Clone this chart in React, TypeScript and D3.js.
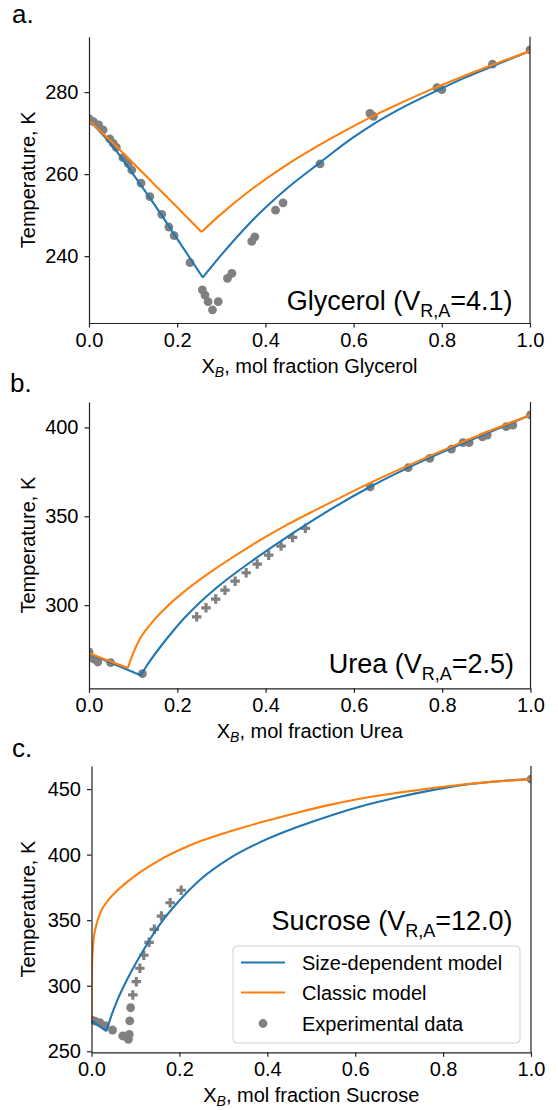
import * as d3 from 'd3'
import { useEffect, useRef } from 'react'

const FONT = '"Liberation Sans", Arial, Helvetica, sans-serif'
const BLUE = '#1f77b4'
const ORANGE = '#ff7f0e'
const GREY = '#808080'

type Pt = [number, number]

// ---- a. Glycerol ----
const glycerolCircles: Pt[] = [
    [0.000, 273.5], [0.010, 272.8], [0.022, 272.0], [0.032, 270.8], [0.047, 268.6],
    [0.055, 267.5], [0.062, 266.5], [0.077, 264.0], [0.089, 262.6], [0.097, 261.0],
    [0.118, 257.8], [0.138, 254.5], [0.165, 250.2], [0.181, 247.1], [0.193, 245.0],
    [0.229, 238.4], [0.257, 231.8], [0.263, 230.5], [0.270, 228.9], [0.280, 226.9],
    [0.293, 228.9], [0.314, 234.6], [0.324, 235.8], [0.369, 243.6], [0.376, 244.7],
    [0.423, 251.2], [0.440, 253.0], [0.524, 262.5], [0.637, 274.8], [0.645, 274.1],
    [0.789, 281.1], [0.800, 280.6], [0.915, 286.8], [1.000, 290.3],
]
const glycerolSizeLeft: Pt[] = [[0, 273.1], [0.05, 267.3], [0.1, 260.0], [0.15, 252.3], [0.2, 244.2], [0.258, 234.8]]
const glycerolSizeRight: Pt[] = [
    [0.258, 234.8], [0.3, 240.3], [0.365, 248.1], [0.45, 256.6], [0.52, 262.5], [0.6, 269.0],
    [0.645, 272.2], [0.7, 275.6], [0.788, 280.3], [0.85, 283.4], [0.917, 286.4], [1.0, 290.0],
]
const glycerolClassicLeft: Pt[] = [[0, 273.1], [0.05, 268.0], [0.1, 262.7], [0.15, 257.3], [0.2, 251.9], [0.255, 245.9]]
const glycerolClassicRight: Pt[] = [
    [0.255, 245.9], [0.3, 250.3], [0.365, 256.0], [0.45, 262.4], [0.516, 266.7], [0.6, 271.7],
    [0.645, 274.2], [0.7, 277.0], [0.788, 281.2], [0.85, 283.9], [0.917, 286.7], [1.0, 290.0],
]

// ---- b. Urea ----
const ureaCircles: Pt[] = [
    [0.000, 273.7], [0.005, 270.6], [0.012, 269.6], [0.020, 268.0], [0.049, 267.6], [0.121, 261.5],
    [0.637, 366.6], [0.723, 377.3], [0.772, 382.6], [0.821, 387.8], [0.847, 391.4], [0.861, 391.4],
    [0.891, 394.7], [0.902, 395.7], [0.945, 400.4], [0.960, 401.3], [1.000, 407.0],
]
const ureaPlus: Pt[] = [
    [0.244, 293.4], [0.265, 298.5], [0.287, 303.4], [0.308, 308.4], [0.331, 313.5], [0.356, 318.2],
    [0.381, 323.1], [0.407, 328.1], [0.435, 333.2], [0.461, 338.1], [0.490, 343.2],
]
const ureaSizeLeft: Pt[] = [[0, 272.7], [0.117, 260.5]]
const ureaSizeRight: Pt[] = [
    [0.117, 260.5], [0.13, 265.6], [0.161, 276.3], [0.19, 285.3], [0.217, 293.0], [0.244, 299.8],
    [0.293, 310.6], [0.369, 324.8], [0.444, 337.6], [0.49, 345.0], [0.55, 354.3], [0.637, 366.6],
    [0.766, 382.3], [0.9, 396.5], [1.0, 407.0],
]
const ureaClassicLeft: Pt[] = [[0, 272.9], [0.088, 264.6]]
const ureaClassicRight: Pt[] = [
    [0.088, 264.6], [0.097, 271.0], [0.112, 279.5], [0.14, 289.5], [0.18, 300.0], [0.22, 308.5],
    [0.293, 321.6], [0.369, 333.8], [0.444, 344.6], [0.52, 354.3], [0.637, 368.8], [0.766, 383.3],
    [0.9, 397.3], [1.0, 407.0],
]

// ---- c. Sucrose ----
const sucroseCircles: Pt[] = [
    [0.000, 274.0], [0.008, 273.0], [0.019, 271.8], [0.031, 269.5], [0.048, 266.2], [0.071, 261.7],
    [0.078, 261.2], [0.084, 259.1], [0.086, 262.9], [0.087, 273.1], [0.089, 283.2], [1.000, 457.6],
]
const sucrosePlus: Pt[] = [
    [0.094, 293.0], [0.102, 303.1], [0.110, 313.3], [0.119, 323.2], [0.131, 333.1], [0.143, 343.0],
    [0.159, 353.1], [0.179, 363.3], [0.204, 372.8],
]
const sucroseSizeLeft: Pt[] = [[0, 273.3], [0.034, 265.3]]
const sucroseSizeRight: Pt[] = [
    [0.034, 265.3], [0.045, 277.0], [0.057, 287.5], [0.08, 304.0], [0.1, 316.5], [0.118, 327.0],
    [0.136, 337.0], [0.156, 347.0], [0.2, 365.0], [0.247, 380.8], [0.316, 397.5], [0.384, 409.5],
    [0.468, 421.0], [0.55, 430.5], [0.62, 437.5], [0.7, 444.0], [0.772, 449.0], [0.85, 453.3],
    [0.925, 456.0], [1.0, 457.6],
]
const sucroseClassic: Pt[] = [
    [0, 273.0], [0.0005, 300.0], [0.002, 323.0], [0.005, 336.0], [0.01, 345.0], [0.02, 355.5],
    [0.04, 366.0], [0.06, 373.0], [0.08, 378.8], [0.1, 384.0], [0.13, 390.8], [0.16, 396.8],
    [0.2, 403.5], [0.25, 410.5], [0.316, 417.8], [0.39, 425.0], [0.468, 432.0], [0.55, 438.5],
    [0.62, 443.2], [0.7, 447.3], [0.772, 450.6], [0.85, 453.7], [0.925, 455.9], [1.0, 457.6],
]

const xTicks = [0, 0.2, 0.4, 0.6, 0.8, 1.0]
const glycerolTicks = [240, 260, 280]
const ureaTicks = [300, 350, 400]
const sucroseTicks = [250, 300, 350, 400, 450]

const legendLabels = ['Size-dependent model', 'Classic model', 'Experimental data']

interface Panel {
    id: string
    letter: string
    name: string
    vra: string
    left: number
    right: number
    top: number
    bottom: number
    yDomain: [number, number]
    yTicks: number[]
    circles: Pt[]
    plus: Pt[]
    blue: Pt[][]
    orange: Pt[][]
    labelX: number
    labelY: number
    noteX: number
    noteY: number
}

const panels: Panel[] = [
    {
        id: 'a', letter: 'a.', name: 'Glycerol', vra: '4.1',
        left: 89, right: 530, top: 36.7, bottom: 323, yDomain: [223.7, 293.5], yTicks: glycerolTicks,
        circles: glycerolCircles, plus: [],
        blue: [glycerolSizeLeft, glycerolSizeRight], orange: [glycerolClassicLeft, glycerolClassicRight],
        labelX: 12, labelY: 23, noteX: 512.5, noteY: 310,
    },
    {
        id: 'b', letter: 'b.', name: 'Urea', vra: '2.5',
        left: 89, right: 530.5, top: 402, bottom: 688.3, yDomain: [253.2, 414.3], yTicks: ureaTicks,
        circles: ureaCircles, plus: ureaPlus,
        blue: [ureaSizeLeft, ureaSizeRight], orange: [ureaClassicLeft, ureaClassicRight],
        labelX: 10, labelY: 392, noteX: 514, noteY: 673,
    },
    {
        id: 'c', letter: 'c.', name: 'Sucrose', vra: '12.0',
        left: 91.5, right: 531, top: 766, bottom: 1052.3, yDomain: [249.2, 467.6], yTicks: sucroseTicks,
        circles: sucroseCircles, plus: sucrosePlus,
        blue: [sucroseSizeLeft, sucroseSizeRight], orange: [sucroseClassic],
        labelX: 12, labelY: 757, noteX: 512.5, noteY: 930,
    },
]

const drawPanel = (root: d3.Selection<SVGSVGElement, unknown, null, undefined>, p: Panel) => {
    const x = d3.scaleLinear().domain([0, 1]).range([p.left, p.right])
    const y = d3.scaleLinear().domain(p.yDomain).range([p.bottom, p.top])

    root.append('clipPath')
        .attr('id', `clip-${p.id}`)
        .append('rect')
        .attr('x', p.left).attr('y', p.top)
        .attr('width', p.right - p.left).attr('height', p.bottom - p.top)

    const plot = root.append('g').attr('clip-path', `url(#clip-${p.id})`)

    plot.selectAll('circle.exp')
        .data(p.circles)
        .join('circle')
        .attr('cx', d => x(d[0]))
        .attr('cy', d => y(d[1]))
        .attr('r', 4.4)
        .attr('fill', GREY)

    const cross = d3.symbol().type(d3.symbolCross).size(50)
    plot.selectAll('path.plus')
        .data(p.plus)
        .join('path')
        .attr('transform', d => `translate(${x(d[0])},${y(d[1])})`)
        .attr('d', cross()!)
        .attr('fill', GREY)

    const line = d3.line<Pt>()
        .x(d => x(d[0]))
        .y(d => y(d[1]))
        .curve(d3.curveMonotoneX)

    p.blue.forEach(seg => {
        plot.append('path').datum(seg)
            .attr('fill', 'none').attr('stroke', BLUE).attr('stroke-width', 2.1)
            .attr('d', line)
    })
    p.orange.forEach(seg => {
        plot.append('path').datum(seg)
            .attr('fill', 'none').attr('stroke', ORANGE).attr('stroke-width', 2.1)
            .attr('d', line)
    })

    // axes
    const xAxis = root.append('g')
        .attr('transform', `translate(0,${p.bottom})`)
        .call(d3.axisBottom(x).tickValues(xTicks).tickFormat(d3.format('.1f')).tickSize(4.5).tickSizeOuter(0).tickPadding(5.5))
    const yAxis = root.append('g')
        .attr('transform', `translate(${p.left},0)`)
        .call(d3.axisLeft(y).tickValues(p.yTicks).tickFormat(d3.format('d')).tickSize(4.5).tickSizeOuter(0).tickPadding(6))

    ;[xAxis, yAxis].forEach(ax => {
        ax.selectAll('path.domain').attr('stroke', '#222').attr('stroke-width', 1.2)
        ax.selectAll('line').attr('stroke', '#222').attr('stroke-width', 1.2)
        ax.selectAll('text').attr('font-size', 20).attr('font-family', FONT).attr('fill', '#000')
    })

    // right spine
    root.append('line')
        .attr('x1', p.right).attr('x2', p.right)
        .attr('y1', p.top).attr('y2', p.bottom)
        .attr('stroke', '#222').attr('stroke-width', 1.2)

    // labels
    root.append('text')
        .attr('transform', `translate(35,${(p.top + p.bottom) / 2}) rotate(-90)`)
        .attr('text-anchor', 'middle')
        .attr('font-family', FONT).attr('font-size', 20)
        .text('Temperature, K')

    const xl = root.append('text')
        .attr('x', (p.left + p.right) / 2)
        .attr('y', p.bottom + 50)
        .attr('text-anchor', 'middle')
        .attr('font-family', FONT).attr('font-size', 20)
    xl.append('tspan').text('X')
    xl.append('tspan').attr('font-size', 14).attr('font-style', 'italic').attr('dy', 4).text('B')
    xl.append('tspan').attr('dy', -4).text(`, mol fraction ${p.name}`)

    root.append('text')
        .attr('x', p.labelX).attr('y', p.labelY)
        .attr('font-family', FONT).attr('font-size', 26)
        .text(p.letter)

    const note = root.append('text')
        .attr('x', p.noteX).attr('y', p.noteY)
        .attr('text-anchor', 'end')
        .attr('font-family', FONT).attr('font-size', 27)
    note.append('tspan').text(`${p.name} (V`)
    note.append('tspan').attr('font-size', 18).attr('dy', 7).text('R,A')
    note.append('tspan').attr('dy', -7).text(`=${p.vra})`)
}

const drawLegend = (root: d3.Selection<SVGSVGElement, unknown, null, undefined>) => {
    const g = root.append('g')
    g.append('rect')
        .attr('x', 233).attr('y', 946).attr('width', 287).attr('height', 97).attr('rx', 4)
        .attr('fill', 'white').attr('fill-opacity', 0.8)
        .attr('stroke', '#d0d0d0').attr('stroke-width', 1)
    const rows = [962.5, 992.5, 1023.5]
    const colors = [BLUE, ORANGE]
    legendLabels.forEach((label, i) => {
        if (i < 2) {
            g.append('line')
                .attr('x1', 241).attr('x2', 285).attr('y1', rows[i]).attr('y2', rows[i])
                .attr('stroke', colors[i]).attr('stroke-width', 2.1)
        } else {
            g.append('circle').attr('cx', 263).attr('cy', rows[i]).attr('r', 4.4).attr('fill', GREY)
        }
        g.append('text')
            .attr('x', 302).attr('y', rows[i]).attr('dy', '0.36em')
            .attr('font-family', FONT).attr('font-size', 20)
            .text(label)
    })
}

const App = () => {
    const ref = useRef<SVGSVGElement>(null)

    useEffect(() => {
        if (!ref.current) return
        const root = d3.select(ref.current)
        root.selectAll('*').remove()
        panels.forEach(p => drawPanel(root, p))
        drawLegend(root)
        return () => {
            root.selectAll('*').remove()
        }
    }, [])

    return (
        <svg
            ref={ref}
            width={558}
            height={1110}
            style={{ position: 'absolute', left: 0, top: 0, background: 'white' }}
        />
    )
}

export default App
